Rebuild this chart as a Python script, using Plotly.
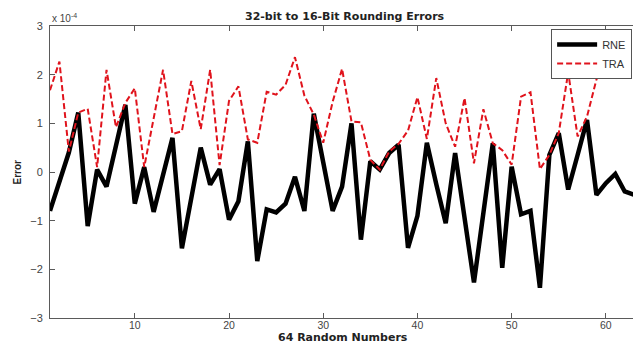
import plotly.graph_objects as go

# Sample index (64 random numbers)
samples = list(range(1, 65))

# Rounding errors, in units of 1e-4
rne = [-0.80, -0.20, 0.40, 1.22, -1.11, 0.05, -0.30, 0.54, 1.38, -0.65,
       0.10, -0.82, -0.05, 0.70, -1.57, -0.48, 0.50, -0.26, 0.06, -0.98,
       -0.60, 0.63, -1.83, -0.77, -0.83, -0.65, -0.10, -0.80, 1.20, 0.20,
       -0.80, -0.30, 1.00, -1.39, 0.22, 0.05, 0.39, 0.56, -1.56, -0.90,
       0.60, -0.25, -1.05, 0.39, -0.95, -2.27, -0.84, 0.59, -1.97, 0.11,
       -0.87, -0.80, -2.38, 0.35, 0.80, -0.36, 0.35, 1.07, -0.47, -0.23,
       -0.04, -0.40, -0.47, -0.50]

tra = [1.68, 2.27, 0.42, 1.22, 1.30, 0.10, 2.10, 0.92, 1.42, 1.72,
       0.10, 1.10, 2.10, 0.78, 0.84, 1.87, 0.88, 2.10, 0.14, 1.46,
       1.76, 0.67, 0.60, 1.65, 1.59, 1.79, 2.36, 1.57, 1.18, 0.60,
       1.44, 2.12, 1.04, 1.02, 0.25, 0.05, 0.42, 0.58, 0.85, 1.54,
       0.68, 1.93, 1.00, 0.52, 1.52, 0.18, 1.29, 0.59, 0.45, 0.15,
       1.55, 1.64, 0.06, 0.35, 0.80, 2.05, 0.73, 1.14, 1.90, 2.28,
       2.20, 2.02, 1.98, 1.95]

x_ticks = [10, 20, 30, 40, 50, 60]
y_ticks = [-3, -2, -1, 0, 1, 2, 3]

fig = go.Figure()
fig.add_trace(go.Scatter(x=samples, y=rne, mode="lines", name="RNE",
                         line=dict(color="black", width=4.5)))
fig.add_trace(go.Scatter(x=samples, y=tra, mode="lines", name="TRA",
                         line=dict(color="#e0131c", width=2, dash="6px,3px")))

axis_color = "#5a5a5a"
font_fam = "Liberation Sans, Arial, sans-serif"
wide_bold = "DejaVu Sans, Verdana, sans-serif"

fig.update_layout(
    width=633, height=345,
    margin=dict(l=50, r=0, t=26, b=27),
    paper_bgcolor="white", plot_bgcolor="white",
    font=dict(family=font_fam, size=11, color="#333"),
    showlegend=True,
    legend=dict(x=0.9985, y=0.99, xanchor="right", yanchor="top",
                bgcolor="white", bordercolor="#555", borderwidth=1,
                font=dict(size=11, color="#333"),
                tracegroupgap=0, itemwidth=40),
    xaxis=dict(range=[1, 62.88], tickvals=x_ticks, ticks="inside", ticklen=5,
               tickcolor=axis_color, showline=True, linecolor=axis_color,
               linewidth=1, mirror="ticks", showgrid=False, zeroline=False,
               ticklabelstandoff=-3,
               tickfont=dict(size=10.5, color="#444")),
    yaxis=dict(range=[-3, 3], tickvals=y_ticks, ticks="inside", ticklen=5,
               tickcolor=axis_color, showline=True, linecolor=axis_color,
               linewidth=1, showgrid=False, zeroline=False,
               ticklabelstandoff=4,
               tickfont=dict(size=11, color="#444")),
    annotations=[
        dict(text="<b>32-bit to 16-Bit Rounding Errors</b>", xref="paper", yref="paper",
             x=0.5056, y=1.034, xanchor="center", yanchor="middle", showarrow=False,
             font=dict(family=wide_bold, size=11, color="#222")),
        dict(text="<b>64 Random Numbers</b>", xref="paper", yref="paper",
             x=0.502, y=-0.068, xanchor="center", yanchor="middle", showarrow=False,
             borderpad=0,
             font=dict(family=wide_bold, size=11, color="#222")),
        dict(text="<b>Error</b>", xref="paper", yref="paper", textangle=-90,
             x=-0.0558, y=0.5, xanchor="center", yanchor="middle", showarrow=False,
             font=dict(size=10, color="#222")),
        dict(text="x 10<sup>-4</sup>", xref="paper", yref="paper",
             x=0.0, y=1.027, xanchor="left", yanchor="middle", showarrow=False,
             font=dict(size=10, color="#444")),
    ],
)

fig.write_html("out.html", config={"displayModeBar": False},
               post_script="document.body.style.margin='0';document.body.style.overflow='hidden';")
